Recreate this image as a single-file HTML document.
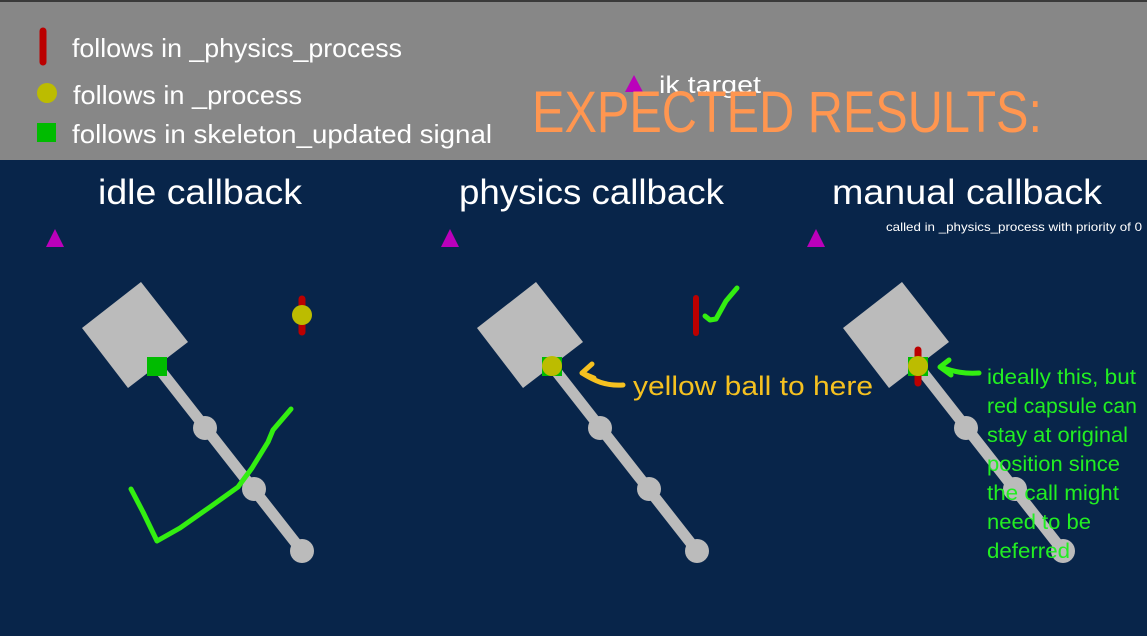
<!DOCTYPE html>
<html><head><meta charset="utf-8"><style>html,body{margin:0;padding:0;background:#08254a}svg{display:block}</style></head>
<body>
<svg width="1147" height="636" viewBox="0 0 1147 636" xmlns="http://www.w3.org/2000/svg" font-family="Liberation Sans, sans-serif">
<rect x="0" y="0" width="1147" height="636" fill="#08254a"/>
<rect x="0" y="0" width="1147" height="160" fill="#878787"/>
<rect x="0" y="0" width="1147" height="2" fill="#3a3a3a"/>
<!-- legend -->
<line x1="43" y1="31" x2="43" y2="62" stroke="#bb0000" stroke-width="7" stroke-linecap="round"/>
<circle cx="47" cy="93" r="10" fill="#bcbc00"/>
<rect x="37" y="123" width="19" height="19" fill="#00bb00"/>
<g fill="#fff" font-size="26">
<text x="72" y="57" textLength="330" lengthAdjust="spacingAndGlyphs">follows in _physics_process</text>
<text x="73" y="104" textLength="229" lengthAdjust="spacingAndGlyphs">follows in _process</text>
<text x="72" y="143" textLength="420" lengthAdjust="spacingAndGlyphs">follows in skeleton_updated signal</text>
</g>
<polygon points="634,75 643,92 625,92" fill="#bb00bb"/>
<text x="659" y="93" fill="#fff" font-size="24" textLength="102" lengthAdjust="spacingAndGlyphs">ik target</text>
<text x="532" y="132" fill="#ff9650" font-size="58" textLength="510" lengthAdjust="spacingAndGlyphs">EXPECTED RESULTS:</text>
<!-- titles -->
<g fill="#fff" font-size="35">
<text x="98" y="204" textLength="204" lengthAdjust="spacingAndGlyphs">idle callback</text>
<text x="459" y="204" textLength="265" lengthAdjust="spacingAndGlyphs">physics callback</text>
<text x="832" y="204" textLength="270" lengthAdjust="spacingAndGlyphs">manual callback</text>
</g>
<text x="886" y="231" fill="#fff" font-size="12" textLength="256" lengthAdjust="spacingAndGlyphs">called in _physics_process with priority of 0</text>
<!-- triangles -->
<polygon points="55,229 64,247 46,247" fill="#bb00bb"/>
<polygon points="450,229 459,247 441,247" fill="#bb00bb"/>
<polygon points="816,229 825,247 807,247" fill="#bb00bb"/>
<!-- skeletons -->
<g id="sk" fill="#bbbbbb" stroke="none">
<polygon points="82,328 141,282 188,342 128,388"/>
<line x1="157" y1="366" x2="302" y2="551" stroke="#bbbbbb" stroke-width="11"/>
<circle cx="157" cy="366" r="10"/>
<circle cx="205" cy="428" r="12"/>
<circle cx="254" cy="489" r="12"/>
<circle cx="302" cy="551" r="12"/>
</g>
<use href="#sk" x="395"/>
<use href="#sk" x="761"/>
<!-- idle markers -->
<rect x="147" y="357" width="20" height="19" fill="#00bb00"/>
<line x1="302" y1="299" x2="302" y2="332" stroke="#bb0000" stroke-width="7" stroke-linecap="round"/>
<circle cx="302" cy="315" r="10" fill="#bcbc00"/>
<polyline points="131,489 143,512 157,541 180,528 210,507 238,487 252,468 268,442 273,430 291,409" fill="none" stroke="#33ee11" stroke-width="5" stroke-linecap="round" stroke-linejoin="round"/>
<!-- physics markers -->
<rect x="542" y="357" width="20" height="19" fill="#00bb00"/>
<circle cx="552" cy="366" r="10" fill="#bcbc00"/>
<line x1="696" y1="298" x2="696" y2="333" stroke="#bb0000" stroke-width="6" stroke-linecap="round"/>
<polyline points="705,316 710,320 716,319 726,301 737,288" fill="none" stroke="#33ee11" stroke-width="5" stroke-linecap="round" stroke-linejoin="round"/>
<path d="M623,385 C605,386 595,381 582,373 M582,373 L592,364 M582,373 L594,378" fill="none" stroke="#f5c120" stroke-width="5" stroke-linecap="round"/>
<text x="633" y="395" fill="#f5c120" font-size="27" textLength="240" lengthAdjust="spacingAndGlyphs">yellow ball to here</text>
<!-- manual markers -->
<rect x="908" y="357" width="20" height="19" fill="#00bb00"/>
<line x1="918" y1="350" x2="918" y2="383" stroke="#bb0000" stroke-width="7" stroke-linecap="round"/>
<circle cx="918" cy="366" r="10" fill="#bcbc00"/>
<path d="M979,373 C965,374 955,372 940,367 M940,367 L949,360 M940,367 L951,375" fill="none" stroke="#33ee11" stroke-width="5" stroke-linecap="round"/>
<g fill="#22ee22" font-size="21">
<text x="987" y="384" textLength="149" lengthAdjust="spacingAndGlyphs">ideally this, but</text>
<text x="987" y="413" textLength="150" lengthAdjust="spacingAndGlyphs">red capsule can</text>
<text x="987" y="442" textLength="141" lengthAdjust="spacingAndGlyphs">stay at original</text>
<text x="987" y="471" textLength="133" lengthAdjust="spacingAndGlyphs">position since</text>
<text x="987" y="500" textLength="132" lengthAdjust="spacingAndGlyphs">the call might</text>
<text x="987" y="529" textLength="104" lengthAdjust="spacingAndGlyphs">need to be</text>
<text x="987" y="558" textLength="83" lengthAdjust="spacingAndGlyphs">deferred</text>
</g>
</svg>
</body></html>
